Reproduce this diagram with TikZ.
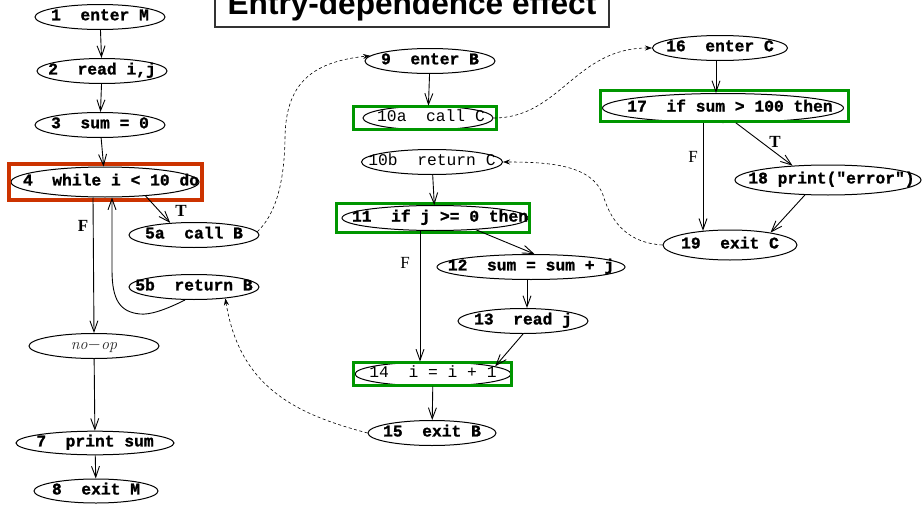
\documentclass[tikz,border=0pt]{standalone}
\usepackage{fontspec}
\setmonofont{Liberation Mono}[BoldFeatures={FakeBold=1.2}]
\newfontfamily\titlefont{Liberation Sans}
\newfontfamily\labelfont{Liberation Serif}
\usetikzlibrary{shapes.geometric,arrows.meta}
\definecolor{hlgreen}{RGB}{0,150,0}
\definecolor{hlred}{RGB}{204,51,0}
% statement text of zero width, so the ellipse keeps its own size;
% the optional argument moves the text right by half its value
\newcommand{\ctr}[2][0pt]{\makebox[0pt]{\hspace*{#1}\strut#2}}
\begin{document}
\begin{tikzpicture}[x=1pt,y=-1pt,
  stmt/.style={ellipse,draw,line width=1pt,inner sep=0pt,
    minimum height=25pt,minimum width=130pt,
    font=\ttfamily\bfseries\fontsize{16.3}{16.3}\selectfont},
  light/.style={font=\ttfamily\fontsize{16.3}{16.3}\selectfont},
  flow/.style={draw,line width=0.9pt,-{Straight Barb[length=11pt,width=8pt]}},
  call/.style={draw,line width=0.6pt,dash pattern=on 3pt off 2.5pt,
    -{Stealth[length=7pt,width=5pt]}},
  edgelab/.style={font=\labelfont\bfseries\fontsize{17}{17}\selectfont,inner sep=0pt},
  hlgreenbox/.style={draw=hlgreen,line width=3pt},
  hlredbox/.style={draw=hlred,line width=3.5pt}
]
\useasboundingbox (0,0) rectangle (922,506);

% title
\node[anchor=base,inner sep=0pt,
  font=\titlefont\bfseries\fontsize{31.6}{31.6}\selectfont] (title) at (412,15) {Entry-dependence effect};
\draw[line width=1.2pt,draw=black!80] (215,-5) rectangle (609,27);

% procedure M
\node[stmt] (n1) at (100,17) {\ctr{1\ \ enter M}};
\node[stmt] (n2) at (102,71) {\ctr{2\ \ read i,j}};
\node[stmt] (n3) at (100,125) {\ctr{3\ \ sum = 0}};
\node[stmt,minimum width=188pt,minimum height=30pt] (n4) at (105,182) {\ctr[12pt]{4\ \ while i < 10 do}};
\node[stmt] (n5a) at (194,235) {\ctr{5a\ \ call B}};
\node[stmt] (n5b) at (194,287) {\ctr{5b\ \ return B}};
\node[stmt,font=\rmfamily\itshape\fontsize{16}{16}\selectfont,text=black!85] (nop) at (94,346) {\ctr{no$\mathord{-}$op}};
\node[stmt,minimum width=158pt,minimum height=22pt] (n7) at (95,443) {\ctr{7\ \ print sum}};
\node[stmt,minimum width=124pt,minimum height=24pt] (n8) at (96,491) {\ctr{8\ \ exit M}};

% procedure B
\node[stmt] (n9) at (430,61) {\ctr{9\ \ enter B}};
\node[stmt,light,minimum height=23pt] (n10a) at (428,118) {\ctr[6pt]{10a\ \ call C}};
\node[stmt,light,minimum width=141pt] (n10b) at (432,162) {\ctr{10b\ \ return C}};
\node[stmt,minimum width=186pt] (n11) at (435,218) {\ctr[10pt]{11\ \ if j >= 0 then}};
\node[stmt,minimum width=188pt] (n12) at (531,267) {\ctr{12\ \ sum = sum + j}};
\node[stmt] (n13) at (523,321) {\ctr{13\ \ read j}};
\node[stmt,light,minimum width=156pt,minimum height=24pt] (n14) at (433,374) {\ctr{14\ \ i = i + 1}};
\node[stmt,minimum width=128pt] (n15) at (432,433) {\ctr{15\ \ exit B}};

% procedure C
\node[stmt,minimum width=135pt] (n16) at (720,48) {\ctr{16\ \ enter C}};
\node[stmt,minimum width=241pt,minimum height=29pt] (n17) at (723,108) {\ctr[14pt]{17\ \ if sum > 100 then}};
\node[stmt,minimum width=186pt,minimum height=30pt] (n18) at (828,180) {\ctr[7pt]{18 print("error")}};
\node[stmt,minimum width=134pt,minimum height=30pt] (n19) at (730,245) {\ctr{19\ \ exit C}};

% highlighted statements
\draw[hlredbox] (9,164) rectangle (202,200);
\draw[hlgreenbox] (353.5,106.5) rectangle (496.5,129.5);
\draw[hlgreenbox] (336.5,203.5) rectangle (529.5,232.5);
\draw[hlgreenbox] (353.5,362.5) rectangle (511.5,385.5);
\draw[hlgreenbox] (600.5,90.5) rectangle (848.5,121.5);

% control flow in M
\draw[flow] (n1) -- (n2);
\draw[flow] (n2) -- (n3);
\draw[flow] (n3) -- (n4);
\draw[flow] (n4.-19) -- (n5a.153);
\draw[flow] ([xshift=-12pt]n4.south) -- (nop.north);
\draw[flow] ([xshift=-9pt]n5b.south) .. controls (165,310) and (150,315) .. (140,314)
  .. controls (120,312) and (112,300) .. (112,270) -- ([xshift=7pt]n4.south);
\draw[flow] (nop) -- (n7);
\draw[flow] (n7) -- (n8);
\node[edgelab] (lT4) at (181,211) {T};
\node[edgelab] (lF4) at (83,226) {F};

% control flow in B
\draw[flow] (n9) -- (n10a);
\draw[flow] (n10b) -- (n11);
\draw[flow] (n11.-16) -- (n12.75);
\draw[flow] ([xshift=-15pt]n11.south) -- ([xshift=-13pt]n14.north);
\draw[flow] ([xshift=-4pt]n12.south) -- ([xshift=4pt]n13.north);
\draw[flow] (n13.south) -- (n14.7);
\draw[flow] (n14) -- (n15);
\node[edgelab,font=\labelfont\fontsize{17}{17}\selectfont] (lF11) at (405,263) {F};

% control flow in C
\draw[flow] ([xshift=-4pt]n16.south) -- ([xshift=-7pt]n17.north);
\draw[flow] (n17.-49) -- (n18.158);
\draw[flow] ([xshift=-20pt]n17.south) -- ([xshift=-27pt,yshift=-1.3pt]n19.north);
\draw[flow] (n18.213) -- (n19.17);
\node[edgelab] (lT17) at (775,142) {T};
\node[edgelab,font=\labelfont\fontsize{17}{17}\selectfont] (lF17) at (693,157) {F};

% calls and returns
\draw[call] (n5a.3) .. controls (275,215) and (284,185) .. (285,140)
  .. controls (285,85) and (310,62) .. (n9.175);
\draw[call] (n10a.east) .. controls (560,118) and (575,48) .. (n16.west);
\draw[call] (n19.west) .. controls (630,243) and (612,225) .. (603,195)
  .. controls (592,165) and (550,162) .. (n10b.east);
\draw[call] (n15.west) .. controls (300,415) and (240,390) .. (n5b.-20);
\end{tikzpicture}
\end{document}
